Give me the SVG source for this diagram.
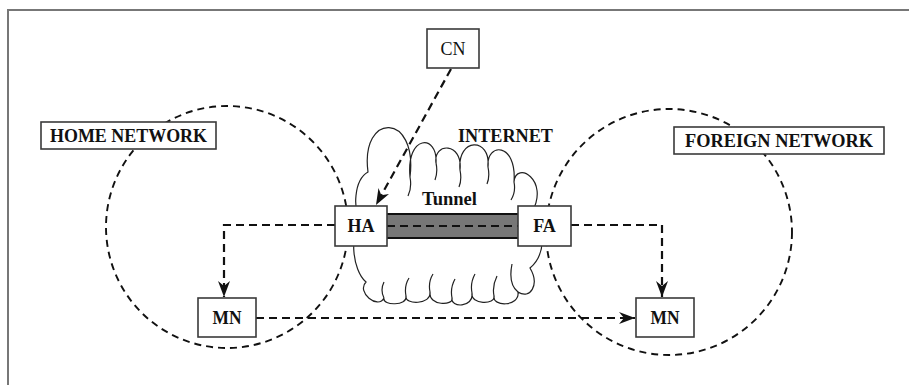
<svg xmlns="http://www.w3.org/2000/svg" width="909" height="385" viewBox="0 0 909 385">
<style>
.box{fill:#fff;stroke:#3a3a3a;stroke-width:1.6}
.lbl{font-family:"Liberation Serif","Times New Roman",serif;font-weight:bold;font-size:18px;fill:#111;text-anchor:middle}
.reg{font-weight:normal}
.net{fill:none;stroke:#111;stroke-width:1.9;stroke-dasharray:7 5}
.conn{fill:none;stroke:#111;stroke-width:2.2;stroke-dasharray:8 5}
.cloud{fill:none;stroke:#222;stroke-width:1.2}
</style>
<defs>
<marker id="arr" markerUnits="userSpaceOnUse" markerWidth="16" markerHeight="12" viewBox="0 0 16 12" refX="16" refY="6" orient="auto">
<path d="M0,0 L16,6 L0,12 L5,6 z" fill="#111"/>
</marker>
</defs>
<rect width="909" height="385" fill="#fff"/>
<path d="M8,385 V10 H909" fill="none" stroke="#777" stroke-width="2"/>

<g id="home-network-area">
<circle class="net" cx="227" cy="227" r="121"/>
</g>
<g id="foreign-network-area">
<circle class="net" cx="669" cy="232" r="123"/>
</g>

<g id="internet">
<path class="cloud" d="M366,282 C352,270 349,232 362,222 C352,210 354,180 368,172 C360,112 418,112 410,177 C406,134 438,134 436,163 C433,142 463,142 460,170 C457,137 491,137 488,167 C486,142 517,142 514,182 C516,160 550,180 532,212 C546,225 546,255 530,268 C540,285 530,300 518,292 C520,307 492,307 494,296 C496,305 470,305 472,293 C474,308 450,308 452,298 C454,306 428,306 430,292 C432,305 404,305 406,296 C408,306 382,306 384,298 C378,310 356,292 366,282 Z"/>
<path class="cloud" d="M410,177 Q412,188 408,196 M436,163 Q438,172 435,180 M460,170 Q462,180 459,187 M488,167 Q490,177 487,184 M514,182 Q516,192 511,200 M494,296 Q492,286 497,276 M472,293 Q470,283 475,274 M452,298 Q450,288 455,279 M430,292 Q428,282 433,274 M406,296 Q404,286 409,278 M518,292 Q508,284 512,264 M384,298 Q380,290 384,282"/>
<text class="lbl" x="505.5" y="142" textLength="95" lengthAdjust="spacingAndGlyphs">INTERNET</text>
</g>

<g id="tunnel">
<rect x="387" y="214" width="131" height="24" fill="#777"/>
<path d="M387,214 H518 M387,238 H518" stroke="#111" stroke-width="2.2"/>
<text class="lbl" x="449.5" y="205" font-size="17" textLength="55" lengthAdjust="spacingAndGlyphs">Tunnel</text>
</g>

<g id="connectors">
<path class="conn" d="M387,226 H518"/>
<path class="conn" d="M451,69 L376,205" marker-end="url(#arr)"/>
<path class="conn" d="M335,225 H224 V297" marker-end="url(#arr)"/>
<path class="conn" d="M571,225 H662 V297" marker-end="url(#arr)"/>
<path class="conn" d="M256,318 H635" marker-end="url(#arr)"/>
</g>

<g id="cn">
<rect class="box" x="427" y="29" width="52" height="39"/>
<text class="lbl reg" x="453" y="55" font-size="17">CN</text>
</g>
<g id="home-network-label">
<rect class="box" x="41" y="122" width="175" height="27"/>
<text class="lbl" x="128.5" y="142" textLength="157" lengthAdjust="spacingAndGlyphs">HOME NETWORK</text>
</g>
<g id="foreign-network-label">
<rect class="box" x="674" y="127" width="210" height="27"/>
<text class="lbl" x="779" y="147" textLength="188" lengthAdjust="spacingAndGlyphs">FOREIGN NETWORK</text>
</g>
<g id="ha">
<rect class="box" x="335" y="206" width="52" height="40"/>
<text class="lbl" x="361" y="232">HA</text>
</g>
<g id="fa">
<rect class="box" x="518" y="206" width="53" height="40"/>
<text class="lbl" x="544.5" y="232">FA</text>
</g>
<g id="mn-home">
<rect class="box" x="198" y="298" width="58" height="39"/>
<text class="lbl" x="227" y="324" textLength="29" lengthAdjust="spacingAndGlyphs">MN</text>
</g>
<g id="mn-foreign">
<rect class="box" x="636" y="298" width="58" height="39"/>
<text class="lbl" x="665" y="324" textLength="29" lengthAdjust="spacingAndGlyphs">MN</text>
</g>
</svg>
